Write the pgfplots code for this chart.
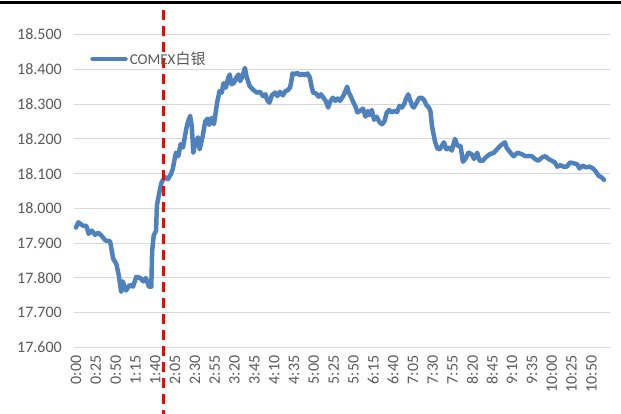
\documentclass[border=0pt]{standalone}
\usepackage{fontspec}
\setmainfont{Carlito}
\newfontfamily\cjk{Noto Sans CJK SC}
\usepackage{pgfplots}
\pgfplotsset{compat=1.18}
\usepackage{pgfplotstable}

\definecolor{silverblue}{RGB}{79,129,189}
\definecolor{gridgrey}{RGB}{217,217,217}
\definecolor{labelgrey}{RGB}{89,89,89}

% COMEX silver, minutes from session start vs price
\pgfplotstableread{
m v
0 17.945
3 17.96
9 17.95
13 17.95
16 17.927
20 17.936
24 17.924
28 17.93
32 17.922
37 17.908
43 17.905
47 17.855
51 17.84
54 17.807
57 17.76
59 17.79
63 17.764
68 17.78
72 17.775
76 17.803
81 17.80
85 17.79
88 17.80
92 17.775
95 17.775
96 17.875
98 17.922
101 17.936
102 18.008
106 18.056
108 18.075
112 18.09
116 18.084
120 18.10
122 18.113
126 18.16
129 18.15
132 18.185
135 18.175
139 18.228
141 18.247
144 18.266
146 18.237
148 18.16
151 18.194
154 18.204
156 18.17
160 18.21
163 18.25
166 18.258
168 18.24
171 18.26
174 18.242
178 18.304
181 18.337
184 18.333
186 18.36
189 18.347
192 18.376
194 18.385
196 18.357
199 18.36
202 18.376
205 18.385
207 18.366
210 18.38
213 18.404
215 18.38
219 18.352
223 18.342
228 18.333
232 18.335
236 18.323
239 18.328
241 18.312
244 18.304
247 18.325
251 18.333
254 18.323
257 18.335
261 18.325
264 18.337
267 18.34
270 18.347
272 18.371
273 18.388
276 18.385
279 18.39
283 18.382
286 18.388
289 18.382
292 18.388
295 18.376
297 18.352
299 18.333
303 18.33
306 18.321
309 18.328
312 18.318
315 18.309
318 18.29
321 18.309
324 18.318
327 18.309
330 18.316
333 18.309
337 18.323
339 18.333
342 18.35
344 18.333
346 18.325
349 18.309
352 18.295
355 18.276
358 18.28
362 18.287
365 18.264
368 18.28
370 18.268
373 18.283
376 18.255
379 18.264
383 18.247
386 18.242
389 18.25
392 18.276
395 18.283
398 18.276
401 18.28
405 18.277
408 18.295
411 18.29
414 18.3
416 18.314
419 18.328
421 18.314
424 18.295
426 18.29
430 18.306
433 18.318
436 18.318
439 18.312
442 18.297
445 18.29
447 18.28
449 18.237
451 18.213
453 18.19
456 18.172
459 18.17
464 18.19
467 18.17
471 18.175
474 18.166
478 18.2
481 18.18
485 18.18
488 18.134
491 18.142
495 18.16
499 18.156
502 18.142
506 18.16
509 18.137
513 18.137
517 18.147
522 18.156
527 18.16
531 18.17
535 18.18
541 18.19
543 18.175
548 18.16
552 18.15
557 18.16
562 18.156
567 18.15
571 18.15
575 18.15
579 18.142
583 18.137
588 18.147
592 18.15
596 18.142
600 18.137
604 18.132
607 18.12
611 18.124
615 18.12
619 18.12
623 18.132
627 18.13
632 18.127
635 18.115
639 18.123
643 18.118
648 18.12
652 18.115
655 18.108
659 18.094
663 18.089
666 18.082
}\silver

\begin{document}
\begin{tikzpicture}
\path[use as bounding box] (0,0) rectangle (621pt,414pt);
% frame rule along the top edge
\draw[black, line width=3pt] (0,411pt) -- (621pt,411pt);
\begin{axis}[
  at={(74pt,66.5pt)}, anchor=south west,
  scale only axis, width=536pt, height=313pt,
  xmin=-2.5, xmax=673.5,
  ymin=17.6, ymax=18.5,
  clip=false,
  axis line style={draw=none},
  major tick length=0pt,
  ytick={17.6,17.7,...,18.55},
  ymajorgrids,
  grid style={gridgrey, line width=1pt},
  xtick={0,25,...,650},
  xticklabels={0:00,0:25,0:50,1:15,1:40,2:05,2:30,2:55,3:20,3:45,4:10,4:35,5:00,5:25,5:50,6:15,6:40,7:05,7:30,7:55,8:20,8:45,9:10,9:35,10:00,10:25,10:50},
  tick label style={font=\fontsize{16}{19}\selectfont, text=labelgrey},
  xticklabel style={yshift=-8pt, rotate=90, anchor=east, inner sep=0pt},
  yticklabel style={anchor=east, inner sep=0pt, xshift=-12pt},
  /pgf/number format/.cd, fixed, fixed zerofill, precision=3, assume math mode=true,
  /pgfplots/.cd,
  legend style={at={(axis description cs:0.03,0.922)}, anchor=west, draw=none, fill=none,
    inner sep=0pt, font=\fontsize{15}{18}\selectfont, text=labelgrey,
    legend cell align=left},
  legend image code/.code={\draw[#1] (0pt,0pt) -- (33pt,0pt);},
]
\addplot[silverblue, line width=4.5pt, line join=round, line cap=round] table[x=m, y=v] {\silver};
\addlegendentry{COMEX{\cjk 白银}}
\draw[red, line width=3pt, dash pattern=on 10pt off 6pt]
  ([yshift=24.5pt]axis cs:111,18.5) -- ([yshift=-66.5pt]axis cs:111,17.6);
\end{axis}
\end{tikzpicture}
\end{document}
